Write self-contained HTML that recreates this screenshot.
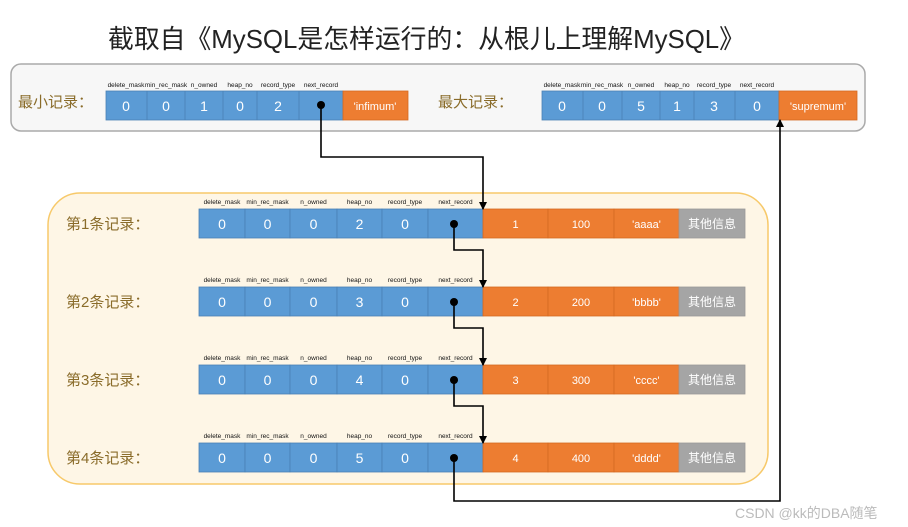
<!DOCTYPE html>
<html><head><meta charset="utf-8"><style>
html,body{margin:0;padding:0;background:#fff;width:908px;height:527px;overflow:hidden}
text{font-family:"Liberation Sans","Noto Sans CJK SC",sans-serif}
</style></head><body>
<svg width="908" height="527" xmlns="http://www.w3.org/2000/svg">
<defs><marker id="ah" markerWidth="8" markerHeight="8" refX="4" refY="7" orient="0" markerUnits="userSpaceOnUse"><path d="M0,0 L8,0 L4,8 z" fill="#000"/></marker>
<marker id="au" markerWidth="8" markerHeight="8" refX="4" refY="1" orient="0" markerUnits="userSpaceOnUse"><path d="M0,8 L8,8 L4,0 z" fill="#000"/></marker></defs>
<text x="108" y="48" font-size="26" fill="#222" textLength="637" lengthAdjust="spacingAndGlyphs">截取自《MySQL是怎样运行的：从根儿上理解MySQL》</text>
<rect x="11" y="64" width="854" height="67" rx="10" fill="#f7f7f7" stroke="#aaa" stroke-width="1.5"/>
<rect x="48" y="193" width="720" height="291" rx="32" fill="#fef6e6" stroke="#f7c96a" stroke-width="1.5"/>
<g font-size="15" fill="#8a6c2a">
<text x="18" y="107">最小记录：</text><text x="438" y="107">最大记录：</text>
<text x="66" y="229">第1条记录：</text><text x="66" y="307">第2条记录：</text><text x="66" y="385">第3条记录：</text><text x="66" y="463">第4条记录：</text>
</g>
<g stroke="#4a80b5" stroke-width="0.8">
<rect x="106" y="91" width="237" height="29" fill="#5b9bd5"/>
<line x1="147" y1="91" x2="147" y2="120"/><line x1="185" y1="91" x2="185" y2="120"/><line x1="223" y1="91" x2="223" y2="120"/><line x1="257" y1="91" x2="257" y2="120"/><line x1="299" y1="91" x2="299" y2="120"/>
<rect x="343" y="91" width="65" height="29" fill="#ed7d31" stroke="#d46a22"/>
<rect x="542" y="91" width="237" height="29" fill="#5b9bd5"/>
<line x1="583" y1="91" x2="583" y2="120"/><line x1="622" y1="91" x2="622" y2="120"/><line x1="660" y1="91" x2="660" y2="120"/><line x1="694" y1="91" x2="694" y2="120"/><line x1="735" y1="91" x2="735" y2="120"/>
<rect x="779" y="91" width="78" height="29" fill="#ed7d31" stroke="#d46a22"/>
</g>
<g font-size="14" fill="#fff" text-anchor="middle">
<text x="126" y="111">0</text><text x="166" y="111">0</text><text x="204" y="111">1</text><text x="240" y="111">0</text><text x="278" y="111">2</text>
<text x="375" y="110" font-size="11">'infimum'</text>
<text x="562" y="111">0</text><text x="602" y="111">0</text><text x="641" y="111">5</text><text x="677" y="111">1</text><text x="714" y="111">3</text><text x="757" y="111">0</text>
<text x="818" y="110" font-size="11">'supremum'</text>
</g>
<g font-size="6.5" fill="#111" text-anchor="middle">
<text x="126" y="87">delete_mask</text><text x="166" y="87">min_rec_mask</text><text x="204" y="87">n_owned</text><text x="240" y="87">heap_no</text><text x="278" y="87">record_type</text><text x="321" y="87">next_record</text>
<text x="562" y="87">delete_mask</text><text x="602" y="87">min_rec_mask</text><text x="641" y="87">n_owned</text><text x="677" y="87">heap_no</text><text x="714" y="87">record_type</text><text x="757" y="87">next_record</text>
</g>
<g id="rows"></g>
<circle cx="321" cy="105" r="4" fill="#000"/>
<g fill="none" stroke="#000" stroke-width="1.6">
<polyline points="321,105 321,157 483,157 483,209" marker-end="url(#ah)"/>
<polyline points="454,224 454,250 483,250 483,287" marker-end="url(#ah)"/>
<polyline points="454,302 454,328 483,328 483,365" marker-end="url(#ah)"/>
<polyline points="454,380 454,406 483,406 483,443" marker-end="url(#ah)"/>
<polyline points="454,458 454,501 780,501 780,120" marker-end="url(#au)"/>
</g>
<text x="735" y="518" font-size="14" fill="#bbb">CSDN @kk的DBA随笔</text>
</svg>
<script>
var rows=[[209,'2','1','100',"'aaaa'"],[287,'3','2','200',"'bbbb'"],[365,'4','3','300',"'cccc'"],[443,'5','4','400',"'dddd'"]];
var xs=[199,245,290,337,382,428,483,548,614,679,745];
var names=['delete_mask','min_rec_mask','n_owned','heap_no','record_type','next_record'];
var s='';
rows.forEach(function(r){var y=r[0];
 var vals=['0','0','0',r[1],'0','',r[2],r[3],r[4],'其他信息'];
 for(var i=0;i<10;i++){var c=i<6?'#5b9bd5':(i<9?'#ed7d31':'#a5a5a5');var st=i<6?'#4a80b5':(i<9?'#d46a22':'#999');
  s+='<rect x="'+xs[i]+'" y="'+y+'" width="'+(xs[i+1]-xs[i])+'" height="29" fill="'+c+'" stroke="'+st+'" stroke-width="0.8"/>';
  var fs=i<6?14:(i==9?12:11);
  s+='<text x="'+((xs[i]+xs[i+1])/2)+'" y="'+(y+(i<6?20:19))+'" font-size="'+fs+'" fill="#fff" text-anchor="middle">'+vals[i]+'</text>';
  if(i<6)s+='<text x="'+((xs[i]+xs[i+1])/2)+'" y="'+(y-5)+'" font-size="6.5" fill="#111" text-anchor="middle">'+names[i]+'</text>';
 }
 s+='<circle cx="454" cy="'+(y+15)+'" r="4" fill="#000"/>';
});
document.getElementById('rows').innerHTML=s;
</script>
</body></html>
